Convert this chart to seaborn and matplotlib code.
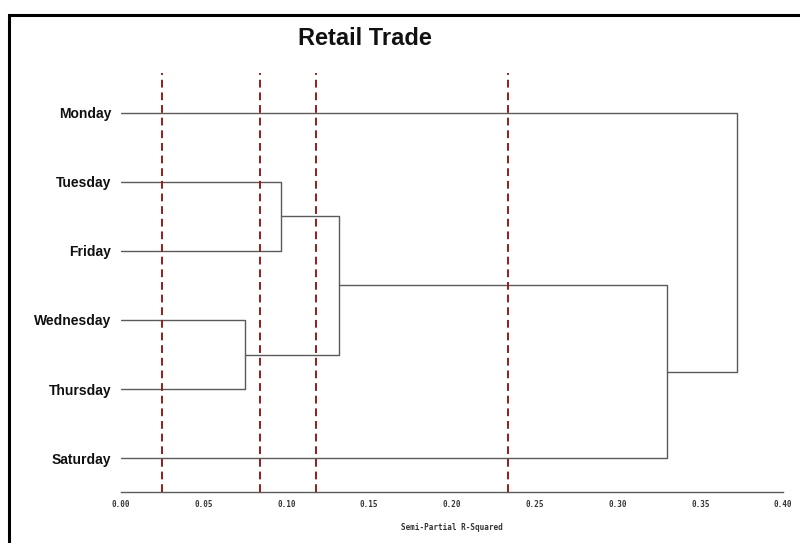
import matplotlib
matplotlib.use("Agg")
import matplotlib.pyplot as plt
import seaborn as sns
import pandas as pd
from matplotlib.patches import Rectangle

# ---- data ----
leaves = ["Monday", "Tuesday", "Friday", "Wednesday", "Thursday", "Saturday"]
merge_left = ["Wednesday", "Tuesday", "TF", "TFWT", "Monday"]
merge_right = ["Thursday", "Friday", "WT", "Saturday", "TFWTS"]
merge_names = ["WT", "TF", "TFWT", "TFWTS", "ALL"]
merge_heights = [0.075, 0.097, 0.132, 0.330, 0.372]
cutoffs = [0.025, 0.084, 0.118, 0.234]
xticks = [0.00, 0.05, 0.10, 0.15, 0.20, 0.25, 0.30, 0.35, 0.40]
xtick_labels = ["0.00", "0.05", "0.10", "0.15", "0.20", "0.25", "0.30", "0.35", "0.40"]

# ---- build dendrogram segments ----
pos = {name: (0.0, float(i)) for i, name in enumerate(leaves)}  # (height, y)
rows = []
seg = 0
for a, b, name, h in zip(merge_left, merge_right, merge_names, merge_heights):
    ha, ya = pos[a]
    hb, yb = pos[b]
    for x, y in [(ha, ya), (h, ya), (h, yb), (hb, yb)]:
        rows.append({"x": x, "y": y, "seg": seg})
    seg += 1
    pos[name] = (h, (ya + yb) / 2)
df = pd.DataFrame(rows)

sns.set_style("white")
plt.rcParams["text.color"] = "#111111"
fig = plt.figure(figsize=(8, 5.43), dpi=100)
ax = fig.add_axes([0.151, 0.094, 0.828, 0.772])

sns.lineplot(data=df, x="x", y="y", units="seg", estimator=None, sort=False,
             color="#5a5a5a", linewidth=1.0, ax=ax, legend=False)

for c in cutoffs:
    ax.axvline(c, color="#951c1c", linestyle=(0, (4, 2.5)), linewidth=1.4, zorder=3)

ax.set_xlim(0, 0.40)
ax.set_ylim(5.49, -0.58)
ax.set_xticks(xticks)
ax.set_xticklabels(xtick_labels, family="DejaVu Sans Mono", fontsize=5.5,
                   fontweight="bold", color="#333333")
ax.set_yticks(range(len(leaves)))
ax.set_yticklabels(leaves, family="Liberation Sans", fontweight="bold", fontsize=10,
                   color="#111111")
ax.tick_params(axis="y", length=0, pad=7)
ax.tick_params(axis="x", direction="in", length=4, width=1, color="#5a5a5a", pad=6)
ax.set_xlabel("Semi-Partial R-Squared", family="DejaVu Sans Mono", fontsize=5.5,
              fontweight="bold", color="#333333", labelpad=10)
ax.set_ylabel("")
for s in ["top", "right", "left"]:
    ax.spines[s].set_visible(False)
ax.spines["bottom"].set_color("#5a5a5a")
ax.spines["bottom"].set_linewidth(1.0)

fig.text(0.456, 0.929, "Retail Trade", ha="center", va="center",
         family="Liberation Sans", fontweight="bold", fontsize=17, color="#111111")

fig.patches.append(Rectangle((0.011, -0.1), 1.2, 1.072, transform=fig.transFigure,
                             fill=False, edgecolor="black", linewidth=2.2))

fig.savefig("out.png", dpi=100)
